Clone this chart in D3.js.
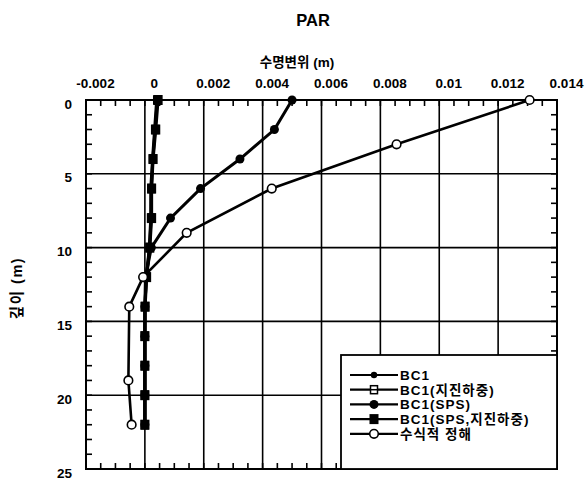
<!DOCTYPE html>
<html>
<head>
<meta charset="utf-8">
<script src="https://cdn.jsdelivr.net/npm/d3@7"></script>
<style>
  body { margin: 0; background: #fff; }
  text { font-family: 'Liberation Sans', Arial, 'Noto Sans CJK KR', sans-serif; font-weight: bold; }
</style>
</head>
<body>
<div id="chart-container"></div>
<script>
// depth (m) at the pile nodes
const depths = [0, 2, 4, 6, 8, 10, 12, 14, 16, 18, 20, 22]
// horizontal displacement (m) per series
const bc1 = [0.0004, 0.00033, 0.00026, 0.0002, 0.0002, 0.00015, 0.00005, 0, 0, 0, 0, 0]
const bc1Seismic = [0.00042, 0.00035, 0.00027, 0.00022, 0.00021, 0.00016, 0.00005, 0, 0, 0, 0, 0]
const bc1Sps = [0.005, 0.0044, 0.00323, 0.00189, 0.00087, 0.00022, 0.00002, 0, 0, 0, 0, 0]
const bc1SpsSeismic = [0.00045, 0.00037, 0.00028, 0.00023, 0.00023, 0.00017, 0.00006, 0.00001, 0, 0, 0, 0]
const analyticDepths = [0, 3, 6, 9, 12, 14, 19, 22]
const analytic = [0.01307, 0.00855, 0.00431, 0.00142, -0.00006, -0.00053, -0.00056, -0.00045]

const seriesNames = ['BC1', 'BC1(지진하중)', 'BC1(SPS)', 'BC1(SPS,지진하중)', '수식적 정해']
const xDomain = [-0.002, 0.014]
const yDomain = [0, 25]

const width = 585
const height = 480
const plotLeft = 86
const plotRight = 557
const plotTop = 100
const plotBottom = 469

const svg = d3
  .select('#chart-container')
  .append('svg')
  .attr('width', width)
  .attr('height', height)

const xScale = d3.scaleLinear().domain(xDomain).range([plotLeft, plotRight])
const yScale = d3.scaleLinear().domain(yDomain).range([plotTop, plotBottom])

const fmt = d => String(+(+d).toFixed(3))

// titles
svg
  .append('text')
  .attr('x', 313)
  .attr('y', 26)
  .attr('text-anchor', 'middle')
  .attr('font-size', 16.5)
  .text('PAR')

svg
  .append('text')
  .attr('x', 297)
  .attr('y', 67)
  .attr('text-anchor', 'middle')
  .attr('font-size', 13.5)
  .text('수명변위 (m)')

svg
  .append('text')
  .attr('transform', `translate(22, 288) rotate(-90)`)
  .attr('text-anchor', 'middle')
  .attr('font-size', 14.5)
  .attr('letter-spacing', 1.5)
  .text('깊이 (m)')

// grid lines
const xTicks = xScale.ticks(8)
const yTicks = yScale.ticks(5)

svg
  .append('g')
  .selectAll('line')
  .data(xTicks.slice(1, -1))
  .join('line')
  .attr('x1', d => xScale(d))
  .attr('x2', d => xScale(d))
  .attr('y1', plotTop)
  .attr('y2', plotBottom)
  .attr('stroke', '#000')
  .attr('stroke-width', 1.6)

svg
  .append('g')
  .selectAll('line')
  .data(yTicks.slice(1, -1))
  .join('line')
  .attr('x1', plotLeft)
  .attr('x2', plotRight)
  .attr('y1', d => yScale(d))
  .attr('y2', d => yScale(d))
  .attr('stroke', '#000')
  .attr('stroke-width', 1.6)

// minor ticks on all four sides, pointing inward
const xMinor = d3.range(-0.002, 0.01401, 0.0005)
const yMinor = d3.range(0, 25.01, 1)
const minorLen = 6

const minorTicks = svg
  .append('g')
  .attr('stroke', '#000')
  .attr('stroke-width', 1.6)

minorTicks
  .selectAll('line.top')
  .data(xMinor)
  .join('line')
  .attr('class', 'top')
  .attr('x1', d => xScale(d))
  .attr('x2', d => xScale(d))
  .attr('y1', plotTop)
  .attr('y2', plotTop + minorLen)

minorTicks
  .selectAll('line.bottom')
  .data(xMinor)
  .join('line')
  .attr('class', 'bottom')
  .attr('x1', d => xScale(d))
  .attr('x2', d => xScale(d))
  .attr('y1', plotBottom)
  .attr('y2', plotBottom - minorLen)

minorTicks
  .selectAll('line.left')
  .data(yMinor)
  .join('line')
  .attr('class', 'left')
  .attr('x1', plotLeft)
  .attr('x2', plotLeft + minorLen)
  .attr('y1', d => yScale(d))
  .attr('y2', d => yScale(d))

minorTicks
  .selectAll('line.right')
  .data(yMinor)
  .join('line')
  .attr('class', 'right')
  .attr('x1', plotRight)
  .attr('x2', plotRight - minorLen)
  .attr('y1', d => yScale(d))
  .attr('y2', d => yScale(d))

// tick labels (scan places them slightly right / below the grid)
svg
  .append('g')
  .call(d3.axisTop(xScale).tickValues(xTicks).tickSize(0).tickPadding(12).tickFormat(fmt))
  .attr('transform', `translate(0, ${plotTop})`)
  .call(g => g.select('.domain').remove())
  .call(g =>
    g
      .selectAll('text')
      .attr('dx', 9)
      .attr('font-size', 13.5)
      .attr('font-family', null)
      .attr('fill', '#000'),
  )

svg
  .append('g')
  .call(d3.axisLeft(yScale).tickValues(yTicks).tickSize(0).tickPadding(14).tickFormat(d3.format('d')))
  .attr('transform', `translate(${plotLeft}, 0)`)
  .call(g => g.select('.domain').remove())
  .call(g =>
    g
      .selectAll('text')
      .attr('dy', '0.6em')
      .attr('font-size', 13.5)
      .attr('font-family', null)
      .attr('fill', '#000'),
  )

// plot frame
svg
  .append('rect')
  .attr('x', plotLeft)
  .attr('y', plotTop)
  .attr('width', plotRight - plotLeft)
  .attr('height', plotBottom - plotTop)
  .attr('fill', 'none')
  .attr('stroke', '#000')
  .attr('stroke-width', 2)

// series
const series = [
  { name: seriesNames[0], ys: depths, xs: bc1, marker: 'smallCircle' },
  { name: seriesNames[1], ys: depths, xs: bc1Seismic, marker: 'openSquare' },
  { name: seriesNames[2], ys: depths, xs: bc1Sps, marker: 'circle' },
  { name: seriesNames[3], ys: depths, xs: bc1SpsSeismic, marker: 'square' },
  { name: seriesNames[4], ys: analyticDepths, xs: analytic, marker: 'openCircle' },
]

const line = d3
  .line()
  .x(d => xScale(d[0]))
  .y(d => yScale(d[1]))

const drawMarker = (g, type) => {
  if (type === 'smallCircle') {
    g.append('circle').attr('r', 3.2).attr('fill', '#000')
  } else if (type === 'openSquare') {
    g.append('rect')
      .attr('x', -3.5)
      .attr('y', -4)
      .attr('width', 7)
      .attr('height', 8)
      .attr('fill', '#fff')
      .attr('stroke', '#000')
      .attr('stroke-width', 1.5)
    g.append('line')
      .attr('x1', -3.5)
      .attr('x2', 3.5)
      .attr('stroke', '#000')
      .attr('stroke-width', 1.5)
  } else if (type === 'circle') {
    g.append('circle').attr('r', 4.5).attr('fill', '#000')
  } else if (type === 'square') {
    g.append('rect')
      .attr('x', -4.5)
      .attr('y', -5)
      .attr('width', 9)
      .attr('height', 10)
      .attr('fill', '#000')
  } else {
    g.append('circle')
      .attr('r', 4.3)
      .attr('fill', '#fff')
      .attr('stroke', '#000')
      .attr('stroke-width', 1.6)
  }
}

const seriesGroup = svg.append('g')

series.forEach(s => {
  const pts = s.xs.map((x, i) => [x, s.ys[i]])
  const g = seriesGroup.append('g')
  g.append('path')
    .attr('d', line(pts))
    .attr('fill', 'none')
    .attr('stroke', '#000')
    .attr('stroke-width', s.marker === 'openCircle' ? 2.6 : 3)
  g.selectAll('g')
    .data(pts)
    .join('g')
    .attr('transform', d => `translate(${xScale(d[0])}, ${yScale(d[1])})`)
    .each(function () {
      drawMarker(d3.select(this), s.marker)
    })
})

// legend
const legend = svg.append('g').attr('transform', 'translate(341, 355)')

legend
  .append('rect')
  .attr('width', plotRight - 341)
  .attr('height', plotBottom - 355)
  .attr('fill', '#fff')
  .attr('stroke', '#000')
  .attr('stroke-width', 1.8)

const legendRows = legend
  .selectAll('g')
  .data(series)
  .join('g')
  .attr('transform', (d, i) => `translate(0, ${20 + i * 14.7})`)

legendRows
  .append('line')
  .attr('x1', 9)
  .attr('x2', 57)
  .attr('stroke', '#000')
  .attr('stroke-width', 2.2)

legendRows.each(function (d) {
  const m = d3.select(this).append('g').attr('transform', 'translate(33, 0)')
  drawMarker(m, d.marker)
})

legendRows
  .append('text')
  .attr('x', 59)
  .attr('dy', '0.36em')
  .attr('font-size', 13.5)
  .attr('letter-spacing', 1)
  .text(d => d.name)
</script>
</body>
</html>
